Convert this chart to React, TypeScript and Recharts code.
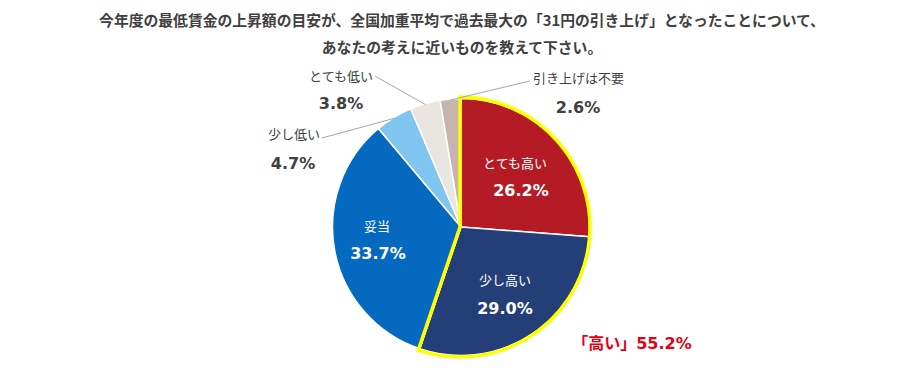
import React from "react";
import { PieChart, Pie, Cell } from "recharts";

const categories = ["とても高い", "少し高い", "妥当", "少し低い", "とても低い", "引き上げは不要"];
const values = [26.2, 29.0, 33.7, 4.7, 3.8, 2.6];
const colors = ["#B51B25", "#243F77", "#0569BF", "#7FC5EF", "#E9E5E1", "#C7B4AE"];
const groupLabels = ["「高い」", "その他"];
const groupValues = [55.2, 44.8];
const titleLines = [
  "今年度の最低賃金の上昇額の目安が、全国加重平均で過去最大の「31円の引き上げ」となったことについて、",
  "あなたの考えに近いものを教えて下さい。",
];

const data = categories.map((name, i) => ({ name, value: values[i] }));
const groupData = groupLabels.map((name, i) => ({ name, value: groupValues[i] }));

const CX = 461;
const CY = 227;
const R = 128.5;
const RADIAN = Math.PI / 180;

const CJK = "'Noto Sans CJK JP', 'Noto Sans', sans-serif";
const NUM = "'DejaVu Sans', Verdana, sans-serif";

// label layout offsets relative to pie centre
const inside: Record<number, { n: [number, number]; p: [number, number] }> = {
  0: { n: [54, -65], p: [60, -37] },
  1: { n: [44, 52], p: [44, 81] },
  2: { n: [-84, -2], p: [-83, 26] },
};
const outside: Record<number, { n: [number, number]; anchor: "start" | "end"; p: [number, number]; l: [number, number] }> = {
  3: { n: [-141, -94], anchor: "end", p: [-168, -64], l: [-139, -89] },
  4: { n: [-88, -152], anchor: "end", p: [-120, -124], l: [-86, -151] },
  5: { n: [72, -150], anchor: "start", p: [117, -120], l: [69, -146] },
};

const renderLabel = (props: any) => {
  const { cx, cy, midAngle, outerRadius, index, name, value } = props;
  const pct = `${Number(value).toFixed(1)}%`;
  if (inside[index]) {
    const L = inside[index];
    return (
      <g>
        <text x={cx + L.n[0]} y={cy + L.n[1]} fill="#FFFFFF" fontSize={13} fontFamily={CJK} textAnchor="middle" dominantBaseline="central">
          {name}
        </text>
        <text x={cx + L.p[0]} y={cy + L.p[1]} fill="#FFFFFF" fontSize={16} fontWeight="bold" fontFamily={NUM} textAnchor="middle" dominantBaseline="central">
          {pct}
        </text>
      </g>
    );
  }
  const L = outside[index];
  const ex = cx + (outerRadius - 1) * Math.cos(-midAngle * RADIAN);
  const ey = cy + (outerRadius - 1) * Math.sin(-midAngle * RADIAN);
  return (
    <g>
      <line x1={ex} y1={ey} x2={cx + L.l[0]} y2={cy + L.l[1]} stroke="#A6A6A6" strokeWidth={1} />
      <text x={cx + L.n[0]} y={cy + L.n[1]} fill="#404040" fontSize={13} fontFamily={CJK} textAnchor={L.anchor} dominantBaseline="central">
        {name}
      </text>
      <text x={cx + L.p[0]} y={cy + L.p[1]} fill="#404040" fontSize={16} fontWeight="bold" fontFamily={NUM} textAnchor="middle" dominantBaseline="central">
        {pct}
      </text>
    </g>
  );
};

export default function App() {
  return (
    <div style={{ position: "absolute", left: 0, top: 0, width: 924, height: 391, background: "#FFFFFF" }}>
      <div
        style={{
          position: "absolute",
          left: 0,
          top: 6,
          width: 924,
          textAlign: "center",
          fontFamily: CJK,
          fontWeight: "bold",
          fontSize: 14.8,
          lineHeight: "27px",
          color: "#404040",
          whiteSpace: "nowrap",
        }}
      >
        {titleLines.map((t, i) => (
          <div key={i}>{t}</div>
        ))}
      </div>
      <div style={{ position: "absolute", left: 0, top: 0 }}>
        <PieChart width={924} height={391} margin={{ top: 0, right: 0, bottom: 0, left: 0 }}>
          <Pie
            data={data}
            dataKey="value"
            nameKey="name"
            cx={CX}
            cy={CY}
            outerRadius={R}
            startAngle={90}
            endAngle={-270}
            stroke="#FFFFFF"
            strokeWidth={1.5}
            label={renderLabel}
            labelLine={false}
            isAnimationActive={false}
          >
            {data.map((d, i) => (
              <Cell key={d.name} fill={colors[i]} />
            ))}
          </Pie>
          <Pie
            data={groupData}
            dataKey="value"
            nameKey="name"
            cx={CX - 1}
            cy={CY}
            outerRadius={R + 1.5}
            startAngle={90}
            endAngle={-270}
            label={false}
            labelLine={false}
            isAnimationActive={false}
          >
            {groupData.map((d, i) => (
              <Cell key={d.name} fill="none" stroke={i === 0 ? "#FFFF00" : "none"} strokeWidth={i === 0 ? 3.5 : 0} />
            ))}
          </Pie>
        </PieChart>
      </div>
      <svg width={924} height={391} style={{ position: "absolute", left: 0, top: 0, pointerEvents: "none" }}>
        <text x={632} y={343} fill="#E60012" fontSize={16} fontWeight="bold" fontFamily={`${NUM}, ${CJK}`} textAnchor="middle" dominantBaseline="central">
          {`${groupLabels[0]}${groupValues[0].toFixed(1)}%`}
        </text>
      </svg>
    </div>
  );
}
